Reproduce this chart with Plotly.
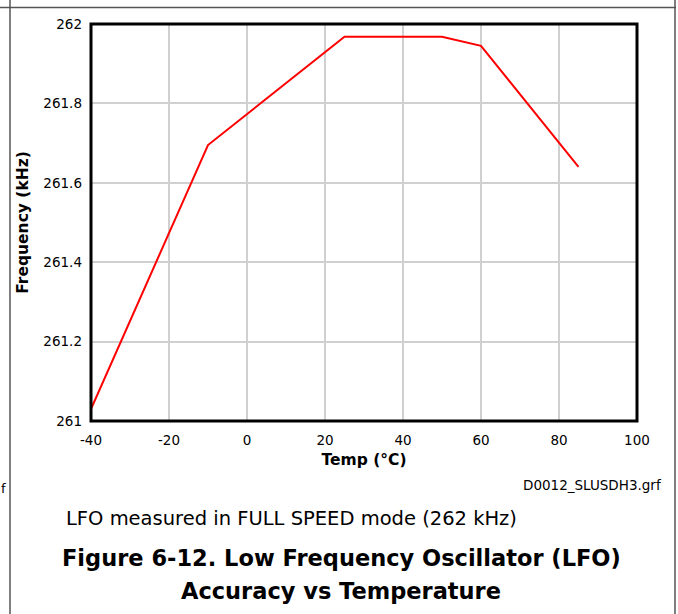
import plotly.graph_objects as go

temp_c = [-40, -10, 25, 50, 60, 85]
freq_khz = [261.03, 261.695, 261.968, 261.968, 261.945, 261.64]

x_tick_vals = [-40, -20, 0, 20, 40, 60, 80, 100]
x_tick_text = ["-40", "-20", "0", "20", "40", "60", "80", "100"]
y_tick_vals = [261, 261.2, 261.4, 261.6, 261.8, 262]
y_tick_text = ["261", "261.2", "261.4", "261.6", "261.8", "262"]

W, H = 678, 614
L, R, T, B = 91, 637, 24, 421
pw, ph = R - L, B - T

def px(x):
    return (x - L) / pw

def py(y):
    return (B - y) / ph

FONT = "DejaVu Sans, Liberation Sans, Arial, sans-serif"

fig = go.Figure()
fig.add_trace(go.Scatter(x=temp_c, y=freq_khz, mode="lines",
                         line=dict(color="#ff0000", width=2), showlegend=False,
                         cliponaxis=False, hoverinfo="skip"))

fig.update_layout(
    width=W, height=H,
    margin=dict(l=L, r=W - R, t=T, b=H - B),
    paper_bgcolor="white", plot_bgcolor="white",
    font=dict(family=FONT, color="black", size=13),
    xaxis=dict(range=[-40, 100], tickmode="array", tickvals=x_tick_vals,
               ticktext=x_tick_text, showgrid=True, gridcolor="#d0d0d0",
               gridwidth=2, zeroline=False, showline=False, ticks="",
               ticklabelstandoff=9, tickfont=dict(size=13.5, family=FONT),
               title=dict(text="<b>Temp (°C)</b>", font=dict(size=15.5, family=FONT),
                          standoff=7)),
    yaxis=dict(range=[261, 262], tickmode="array", tickvals=y_tick_vals,
               ticktext=y_tick_text, showgrid=True, gridcolor="#d0d0d0",
               gridwidth=2, zeroline=False, showline=False, ticks="",
               ticklabelstandoff=8, tickfont=dict(size=13.5, family=FONT),
               title=dict(text="<b>Frequency (kHz)</b>", font=dict(size=15.5, family=FONT),
                          standoff=10)),
)

# plot border
fig.add_shape(type="rect", xref="paper", yref="paper", x0=0, x1=1, y0=0, y1=1,
              line=dict(color="black", width=3), layer="above")

# page frame lines
frame = dict(color="#555555", width=1.5)
fig.add_shape(type="line", xref="paper", yref="paper",
              x0=px(0), x1=px(676), y0=py(7.5), y1=py(7.5), line=frame)
fig.add_shape(type="line", xref="paper", yref="paper",
              x0=px(10), x1=px(10), y0=py(0), y1=py(614), line=frame)
fig.add_shape(type="line", xref="paper", yref="paper",
              x0=px(675), x1=px(675), y0=py(0), y1=py(614), line=frame)

fig.add_annotation(text="D0012_SLUSDH3.grf", xref="paper", yref="paper",
                   x=px(664), y=py(485), xanchor="right", yanchor="middle",
                   showarrow=False, font=dict(size=13.5, family=FONT))
fig.add_annotation(text="f", xref="paper", yref="paper",
                   x=px(-1), y=py(488), xanchor="left", yanchor="middle",
                   showarrow=False, font=dict(size=13, family=FONT))
fig.add_annotation(text="LFO measured in FULL SPEED mode (262 kHz)", xref="paper", yref="paper",
                   x=px(64), y=py(518), xanchor="left", yanchor="middle",
                   showarrow=False, font=dict(size=19.5, family=FONT))
fig.add_annotation(text="<b>Figure 6-12. Low Frequency Oscillator (LFO)</b>", xref="paper", yref="paper",
                   x=px(341), y=py(558), xanchor="center", yanchor="middle",
                   showarrow=False, font=dict(size=22.5, family=FONT))
fig.add_annotation(text="<b>Accuracy vs Temperature</b>", xref="paper", yref="paper",
                   x=px(341), y=py(591), xanchor="center", yanchor="middle",
                   showarrow=False, font=dict(size=22.5, family=FONT))

fig.write_html("out.html", config={"displayModeBar": False},
               post_script="document.body.style.margin='0';document.body.style.overflow='hidden';")
